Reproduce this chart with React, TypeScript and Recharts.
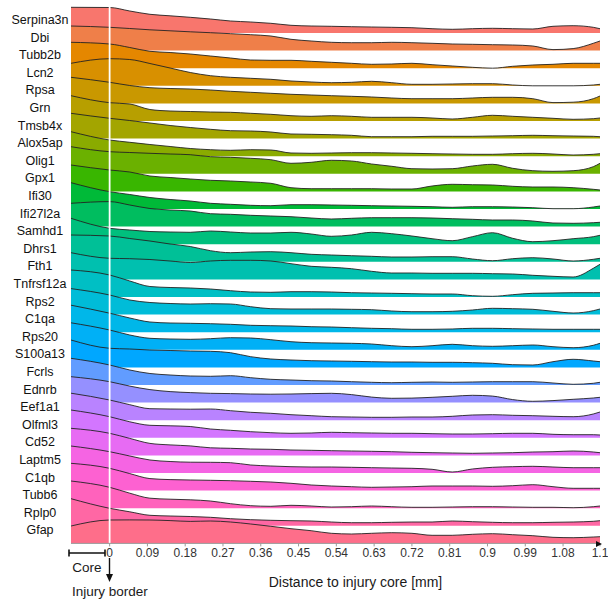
import { ComposedChart, Area, XAxis, YAxis, ReferenceLine } from "recharts";

const FONT = '"Liberation Sans", Arial, Helvetica, sans-serif';

// genes, top ridge first
const GENES = [
  "Serpina3n", "Dbi", "Tubb2b", "Lcn2", "Rpsa", "Grn", "Tmsb4x", "Alox5ap",
  "Olig1", "Gpx1", "Ifi30", "Ifi27l2a", "Samhd1", "Dhrs1", "Fth1", "Tnfrsf12a",
  "Rps2", "C1qa", "Rps20", "S100a13", "Fcrls", "Ednrb", "Eef1a1", "Olfml3",
  "Cd52", "Laptm5", "C1qb", "Tubb6", "Rplp0", "Gfap",
];

// distance to injury core [mm], negative = inside the core
const DIST = [
  -0.092, 0, 0.048, 0.096, 0.144, 0.192, 0.24, 0.288, 0.336, 0.384, 0.432, 0.48, 0.528,
  0.576, 0.624, 0.672, 0.72, 0.768, 0.816, 0.864, 0.912, 0.96, 1.008, 1.056, 1.104, 1.152, 1.168,
];

const SERPINA3N = [2.57, 2.55, 2.2, 1.87, 1.72, 1.57, 1.4, 1.2, 1.1, 0.97, 0.77, 0.7, 0.67, 0.63, 0.6, 0.57, 0.53, 0.43, 0.37, 0.43, 0.47, 0.43, 0.4, 0.67, 0.73, 0.57, 0.43];
const DBI = [2.46, 2.33, 2.21, 2.08, 1.98, 1.88, 1.79, 1.69, 1.59, 1.46, 1.13, 0.96, 0.83, 0.79, 0.79, 0.83, 0.79, 0.73, 0.66, 0.63, 0.59, 0.56, 0.46, 0.1, 0.2, 0.73, 0.96];
const TUBB2B = [2.59, 2.42, 2.07, 1.69, 1.57, 1.42, 1.22, 1.02, 0.82, 0.79, 0.79, 0.69, 0.59, 0.49, 0.39, 0.42, 0.49, 0.35, 0.22, 0.09, 0, 0.19, 0.32, 0.39, 0.49, 0.49, 0.49];
const LCN2 = [2.25, 2.71, 2.63, 2.23, 1.78, 1.33, 1.01, 0.85, 0.75, 0.65, 0.48, 0.38, 0.31, 0.35, 0.45, 0.31, 0.15, 0.15, 0.18, 0.21, 0.21, 0.08, 0, 0, 0, 0.08, 0.15];
const RPSA = [2.61, 2.11, 1.79, 1.57, 1.49, 1.44, 1.34, 1.21, 1.11, 1.01, 0.91, 0.84, 0.77, 0.71, 0.64, 0.54, 0.47, 0.47, 0.47, 0.54, 0.61, 0.61, 0.47, 0.08, 0.12, 0.47, 0.74];
const GRN = [2.53, 1.83, 1.7, 1.15, 1.0, 0.95, 0.9, 0.87, 0.77, 0.67, 0.53, 0.47, 0.53, 0.47, 0.37, 0.37, 0.37, 0.3, 0.2, 0.37, 0.57, 0.47, 0.37, 0.27, 0.17, 0.23, 0.3];
const TMSB4X = [2.53, 2.03, 1.81, 1.56, 1.31, 1.11, 0.93, 0.79, 0.76, 0.66, 0.46, 0.43, 0.39, 0.33, 0.19, 0.19, 0.19, 0.23, 0.23, 0.23, 0.26, 0.29, 0.33, 0.29, 0.26, 0.23, 0.19];
const ALOX5AP = [2.45, 1.62, 1.39, 1.17, 0.97, 0.77, 0.65, 0.59, 0.65, 0.62, 0.32, 0.29, 0.32, 0.35, 0.35, 0.32, 0.29, 0.25, 0.22, 0.19, 0.19, 0.25, 0.29, 0.22, 0.12, 0.19, 0.25];
const OLIG1 = [2.71, 2.21, 2.13, 2.05, 1.98, 1.91, 1.71, 1.65, 1.55, 1.41, 1.05, 1.15, 1.35, 1.28, 0.98, 0.75, 0.51, 0.48, 0.51, 0.78, 0.95, 0.55, 0.31, 0.25, 0.31, 0.71, 1.05];
const GPX1 = [2.64, 2.14, 1.94, 1.54, 1.39, 1.24, 1.11, 1.04, 0.94, 0.81, 0.37, 0.27, 0.27, 0.27, 0.27, 0.24, 0.24, 0.54, 0.71, 0.67, 0.64, 0.51, 0.44, 0.44, 0.37, 0.21, 0.14];
const IFI30 = [2.63, 1.73, 1.45, 1.15, 0.95, 0.8, 0.57, 0.47, 0.37, 0.33, 0.43, 0.43, 0.4, 0.37, 0.33, 0.3, 0.27, 0.23, 0.17, 0.23, 0.23, 0.2, 0.13, 0.03, 0.03, 0.2, 0.3];
const IFI27L2A = [2.33, 2.5, 2.16, 1.81, 1.66, 1.56, 1.29, 1.23, 1.13, 1.06, 0.99, 0.86, 0.76, 0.83, 0.89, 0.89, 0.89, 0.86, 0.79, 0.73, 0.66, 0.66, 0.56, 0.36, 0.33, 0.39, 0.43];
const SAMHD1 = [2.59, 1.59, 1.42, 1.27, 1.22, 1.19, 1.32, 1.22, 1.12, 1.12, 1.19, 1.02, 0.79, 0.92, 1.19, 1.05, 0.82, 0.55, 0.35, 0.75, 1.15, 0.59, 0.25, 0.35, 0.55, 0.75, 0.89];
const DHRS1 = [2.68, 2.58, 2.33, 2.08, 1.78, 1.53, 1.11, 0.91, 0.98, 1.01, 0.91, 0.75, 0.68, 0.61, 0.55, 0.48, 0.48, 0.51, 0.51, 0.28, 0.11, 0.31, 0.41, 0.28, 0.08, 0.25, 0.35];
const FTH1 = [2.67, 2.11, 2.07, 1.99, 1.84, 1.69, 1.84, 1.91, 1.91, 1.84, 1.57, 1.31, 1.21, 1.07, 0.81, 0.64, 0.64, 0.61, 0.61, 0.61, 0.57, 0.54, 0.41, 0.31, 0.24, 1.11, 1.51];
const TNFRSF12A = [2.7, 2.2, 1.6, 1.05, 0.95, 0.9, 0.8, 0.63, 0.5, 0.47, 0.53, 0.53, 0.5, 0.43, 0.4, 0.37, 0.33, 0.3, 0.3, 0.13, 0.07, 0.23, 0.37, 0.4, 0.43, 0.43, 0.43];
const RPS2 = [2.6, 1.96, 1.46, 1.21, 1.11, 1.06, 1.09, 1.06, 0.79, 0.59, 0.56, 0.56, 0.56, 0.53, 0.49, 0.36, 0.29, 0.29, 0.33, 0.46, 0.63, 0.59, 0.53, 0.33, 0.16, 0.39, 0.56];
const C1QA = [2.7, 1.9, 1.42, 1.02, 0.92, 0.89, 0.85, 0.79, 0.69, 0.65, 0.62, 0.55, 0.52, 0.45, 0.39, 0.35, 0.29, 0.29, 0.32, 0.39, 0.39, 0.35, 0.32, 0.29, 0.29, 0.29, 0.29];
const RPS20 = [2.7, 1.98, 1.48, 1.15, 1.08, 1.05, 1.11, 1.21, 1.18, 1.01, 0.81, 0.71, 0.68, 0.65, 0.58, 0.41, 0.31, 0.41, 0.55, 0.41, 0.35, 0.41, 0.48, 0.31, 0.21, 0.45, 0.65];
const S100A13 = [2.74, 1.91, 1.84, 1.74, 1.69, 1.64, 1.61, 1.47, 1.07, 0.84, 0.74, 0.67, 0.64, 0.61, 0.57, 0.54, 0.54, 0.51, 0.51, 0.47, 0.41, 0.27, 0.24, 0.57, 0.81, 0.64, 0.57];
const FCRLS = [2.67, 2.0, 1.5, 1.15, 1.0, 0.9, 0.87, 0.93, 0.73, 0.57, 0.5, 0.43, 0.4, 0.33, 0.27, 0.23, 0.27, 0.3, 0.27, 0.3, 0.33, 0.33, 0.33, 0.2, 0.07, 0.17, 0.27];
const EDNRB = [2.59, 2.09, 1.65, 1.3, 1.1, 1.0, 0.93, 0.9, 0.86, 0.84, 0.86, 0.9, 0.93, 0.8, 0.55, 0.43, 0.45, 0.53, 0.63, 0.73, 0.65, 0.3, 0.13, 0.2, 0.33, 0.46, 0.53];
const EEF1A1 = [2.7, 2.02, 1.55, 1.15, 1.12, 1.1, 1.12, 0.95, 0.79, 0.69, 0.55, 0.45, 0.35, 0.32, 0.29, 0.29, 0.32, 0.32, 0.39, 0.52, 0.55, 0.49, 0.45, 0.39, 0.35, 0.62, 0.82];
const OLFML3 = [2.78, 2.11, 1.6, 1.25, 1.2, 1.13, 0.88, 0.75, 0.61, 0.51, 0.45, 0.48, 0.55, 0.51, 0.48, 0.45, 0.45, 0.41, 0.38, 0.38, 0.41, 0.45, 0.45, 0.35, 0.31, 0.31, 0.28];
const CD52 = [2.71, 2.21, 1.7, 1.2, 1.05, 0.95, 0.76, 0.71, 0.64, 0.61, 0.54, 0.51, 0.47, 0.44, 0.41, 0.37, 0.31, 0.27, 0.24, 0.21, 0.24, 0.27, 0.34, 0.37, 0.44, 0.34, 0.27];
const LAPTM5 = [2.7, 2.13, 1.7, 1.3, 1.15, 1.08, 1.07, 1.03, 0.8, 0.7, 0.63, 0.6, 0.6, 0.57, 0.53, 0.5, 0.47, 0.37, 0.1, 0.4, 0.57, 0.63, 0.67, 0.6, 0.53, 0.53, 0.53];
const C1QB = [2.73, 2.23, 1.7, 1.2, 1.1, 1.06, 1.03, 0.99, 0.93, 0.86, 0.73, 0.56, 0.46, 0.39, 0.33, 0.36, 0.39, 0.46, 0.46, 0.46, 0.43, 0.49, 0.59, 0.39, 0.23, 0.23, 0.23];
const TUBB6 = [2.72, 2.09, 1.5, 1.0, 0.9, 0.84, 0.72, 0.45, 0.25, 0.19, 0.29, 0.22, 0.12, 0.15, 0.22, 0.15, 0.09, 0.09, 0.12, 0.15, 0.15, 0.12, 0.09, 0.09, 0.05, 0.15, 0.22];
const RPLP0 = [2.71, 1.75, 1.4, 1.05, 0.98, 0.93, 0.85, 0.71, 0.61, 0.55, 0.51, 0.48, 0.38, 0.31, 0.31, 0.35, 0.38, 0.38, 0.48, 0.41, 0.35, 0.31, 0.31, 0.35, 0.38, 0.45, 0.51];
const GFAP = [1.74, 2.34, 2.35, 2.34, 2.28, 2.2, 2.24, 2.14, 1.94, 1.71, 1.47, 1.27, 1.01, 0.94, 1.01, 1.07, 1.01, 0.81, 0.81, 0.91, 0.97, 0.87, 0.77, 0.61, 0.57, 0.64, 0.67];

const SERIES = [
  SERPINA3N, DBI, TUBB2B, LCN2, RPSA, GRN, TMSB4X, ALOX5AP, OLIG1, GPX1,
  IFI30, IFI27L2A, SAMHD1, DHRS1, FTH1, TNFRSF12A, RPS2, C1QA, RPS20, S100A13,
  FCRLS, EDNRB, EEF1A1, OLFML3, CD52, LAPTM5, C1QB, TUBB6, RPLP0, GFAP,
];

const TICKS = [0, 0.09, 0.18, 0.27, 0.36, 0.45, 0.54, 0.63, 0.72, 0.81, 0.9, 0.99, 1.08, 1.168];
const TICK_LABELS = ["0", "0.09", "0.18", "0.27", "0.36", "0.45", "0.54", "0.63", "0.72", "0.81", "0.9", "0.99", "1.08", "1.1"];

const ROW_GAP = 1.76;
const Y_MAX = 53.74;
const N = GENES.length;

// ggplot-style hue palette (polar LUV -> sRGB)
function hcl(h: number, c = 100, l = 65) {
  const hr = (h * Math.PI) / 180;
  const u = c * Math.cos(hr);
  const v = c * Math.sin(hr);
  const Xn = 95.047, Yn = 100, Zn = 108.883;
  const un = (4 * Xn) / (Xn + 15 * Yn + 3 * Zn);
  const vn = (9 * Yn) / (Xn + 15 * Yn + 3 * Zn);
  const Y = l > 8 ? Yn * Math.pow((l + 16) / 116, 3) : (Yn * l) / 903.3;
  const up = u / (13 * l) + un;
  const vp = v / (13 * l) + vn;
  const X = (Y * 9 * up) / (4 * vp);
  const Z = (Y * (12 - 3 * up - 20 * vp)) / (4 * vp);
  const x = X / 100, y = Y / 100, z = Z / 100;
  const rgb = [
    3.240479 * x - 1.53715 * y - 0.498535 * z,
    -0.969256 * x + 1.875992 * y + 0.041556 * z,
    0.055648 * x - 0.204043 * y + 1.057311 * z,
  ];
  return (
    "#" +
    rgb
      .map((ch) => {
        const g = ch <= 0.0031308 ? 12.92 * ch : 1.055 * Math.pow(ch, 1 / 2.4) - 0.055;
        const n = Math.round(Math.min(1, Math.max(0, g)) * 255);
        return n.toString(16).padStart(2, "0");
      })
      .join("")
  );
}

const COLORS = GENES.map((_, i) => hcl(15 + i * 12));
const BASES = GENES.map((_, i) => (N - 1 - i) * ROW_GAP);

const data = DIST.map((x, j) => {
  const row: Record<string, number> = { x };
  GENES.forEach((g, i) => {
    row[g] = SERIES[i][j];
  });
  return row;
});

const GeneTick = (props: any) => {
  const { y, payload } = props;
  const idx = N - 1 - Math.round(payload.value / ROW_GAP);
  return (
    <text
      x={40}
      y={y - 13}
      textAnchor="middle"
      dominantBaseline="central"
      fontSize={12.5}
      fontFamily={FONT}
      fill="#111"
    >
      {GENES[idx]}
    </text>
  );
};

export default function App() {
  return (
    <div style={{ position: "absolute", left: 0, top: 0, width: 608, height: 601, fontFamily: FONT }}>
      <ComposedChart
        width={608}
        height={601}
        data={data}
        margin={{ top: 6, right: 8, bottom: 0, left: 0 }}
      >
        <XAxis
          dataKey="x"
          type="number"
          domain={[-0.092, 1.168]}
          allowDataOverflow
          ticks={TICKS}
          interval={0}
          tickFormatter={(_v: number, i: number) => TICK_LABELS[i]}
          height={57.6}
          tickSize={3}
          stroke="#9a9a9a"
          tick={{ fontSize: 12, fill: "#333", fontFamily: FONT }}
        />
        <YAxis
          type="number"
          domain={[0, Y_MAX]}
          allowDataOverflow
          ticks={BASES.slice().reverse()}
          interval={0}
          width={71}
          axisLine={false}
          tickLine={false}
          tick={<GeneTick />}
        />
        {GENES.map((g, i) => (
          <Area
            key={g}
            type="monotone"
            dataKey={(d: any) => BASES[i] + d[g]}
            baseValue={BASES[i]}
            fill={COLORS[i]}
            fillOpacity={1}
            stroke="#222"
            strokeWidth={0.9}
            dot={false}
            activeDot={false}
            isAnimationActive={false}
          />
        ))}
        <ReferenceLine x={0} stroke="#ffffff" strokeWidth={1.8} />
      </ComposedChart>
      <svg
        width={608}
        height={601}
        style={{ position: "absolute", left: 0, top: 0, pointerEvents: "none" }}
      >
        <polygon points="596,541 602,544 596,547" fill="#111" />
        <line x1={69} y1={553} x2={105} y2={553} stroke="#111" strokeWidth={1.6} />
        <line x1={69} y1={549.5} x2={69} y2={556.5} stroke="#111" strokeWidth={1.6} />
        <line x1={105} y1={549.5} x2={105} y2={556.5} stroke="#111" strokeWidth={1.6} />
        <text x={87} y={567} textAnchor="middle" dominantBaseline="central" fontSize={13.5} fontFamily={FONT} fill="#1a1a1a">
          Core
        </text>
        <line x1={109.5} y1={558} x2={109.5} y2={575} stroke="#111" strokeWidth={1.4} />
        <polygon points="106,574 113,574 109.5,582" fill="#111" />
        <text x={72} y={591} dominantBaseline="central" fontSize={13.5} fontFamily={FONT} fill="#1a1a1a">
          Injury border
        </text>
        <text x={355.5} y={581.5} textAnchor="middle" dominantBaseline="central" fontSize={14} fontFamily={FONT} fill="#1a1a1a">
          Distance to injury core [mm]
        </text>
      </svg>
    </div>
  );
}
